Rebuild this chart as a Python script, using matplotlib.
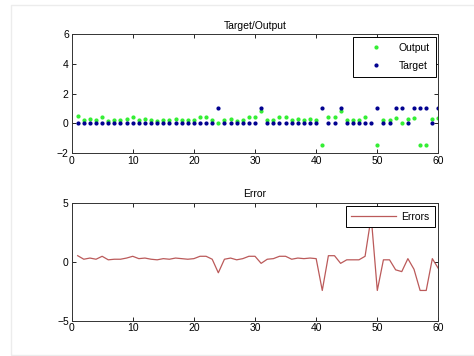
import matplotlib
matplotlib.use('Agg')
import matplotlib.pyplot as plt
from matplotlib.patches import Rectangle

plt.rcParams['font.family'] = ['Liberation Sans', 'DejaVu Sans']

# sample index
samples = list(range(1, 61))

# network output
output = [0.5, 0.2, 0.3, 0.2, 0.45, 0.15, 0.2, 0.2, 0.3, 0.45,
          0.25, 0.3, 0.2, 0.15, 0.25, 0.2, 0.3, 0.25, 0.2, 0.25,
          0.45, 0.45, 0.2, 0.05, 0.2, 0.3, 0.15, 0.25, 0.45, 0.45,
          0.85, 0.2, 0.25, 0.45, 0.45, 0.2, 0.3, 0.25, 0.3, 0.25,
          -1.45, 0.45, 0.45, 0.8, 0.2, 0.2, 0.2, 0.45, 3.8, -1.45,
          0.2, 0.2, 0.35, 0.05, 0.3, 0.35, -1.45, -1.45, 0.3, 0.35]

# target values
target = [0, 0, 0, 0, 0, 0, 0, 0, 0, 0,
          0, 0, 0, 0, 0, 0, 0, 0, 0, 0,
          0, 0, 0, 1, 0, 0, 0, 0, 0, 0,
          1, 0, 0, 0, 0, 0, 0, 0, 0, 0,
          1, 0, 0, 1, 0, 0, 0, 0, 0, 1,
          0, 0, 1, 1, 0, 1, 1, 1, 0, 1]

# error curve
errors = [0.5, 0.2, 0.3, 0.2, 0.45, 0.15, 0.2, 0.2, 0.3, 0.45,
          0.25, 0.3, 0.2, 0.15, 0.25, 0.2, 0.3, 0.25, 0.2, 0.25,
          0.45, 0.45, 0.2, -0.95, 0.2, 0.3, 0.15, 0.25, 0.45, 0.45,
          -0.15, 0.2, 0.25, 0.45, 0.45, 0.2, 0.3, 0.25, 0.3, 0.25,
          -2.45, 0.5, 0.5, -0.15, 0.15, 0.15, 0.15, 0.45, 3.8, -2.45,
          0.15, 0.15, -0.7, -0.85, 0.25, -0.65, -2.45, -2.45, 0.25, -0.6]

xticks = [0, 10, 20, 30, 40, 50, 60]

fig = plt.figure(figsize=(4.74, 3.56), dpi=100)
fig.patches.append(Rectangle((11 / 474, 1 / 356), 1.0, 350 / 356,
                             transform=fig.transFigure, fill=False,
                             edgecolor='#ececec', linewidth=1.0))

ax1 = fig.add_axes([0.151, 0.570, 0.774, 0.334])
ax2 = fig.add_axes([0.151, 0.0997, 0.774, 0.331])

ax1.plot(samples, output, linestyle='none', marker='.', markersize=4,
         color='#33ee33', label='Output')
ax1.plot(samples, target, linestyle='none', marker='.', markersize=4,
         color='#000090', label='Target')
ax1.set_xlim(0, 60)
ax1.set_ylim(-2, 6)
ax1.set_yticks([-2, 0, 2, 4, 6])
ax1.set_title('Target/Output', fontsize=7.5, pad=4)

ax2.plot(samples, errors, color='#bb5a5a', linewidth=0.9, label='Errors')
ax2.set_xlim(0, 60)
ax2.set_ylim(-5, 5)
ax2.set_yticks([-5, 0, 5])
ax2.set_title('Error', fontsize=7.5, pad=4)

for ax in (ax1, ax2):
    ax.set_xticks(xticks)
    ax.tick_params(direction='in', top=True, right=True, length=3,
                   width=0.6, labelsize=7.5, pad=2)
    for s in ax.spines.values():
        s.set_linewidth(0.7)
        s.set_color('#333333')

leg1 = ax1.legend(loc='upper right', fontsize=7.5, fancybox=False,
                  edgecolor='black', framealpha=1, borderaxespad=0.25,
                  handlelength=3.2, handletextpad=0.6, labelspacing=0.75,
                  borderpad=0.6)
leg1.get_frame().set_linewidth(0.7)
leg2 = ax2.legend(loc='upper right', fontsize=7.5, fancybox=False,
                  edgecolor='black', framealpha=1, borderaxespad=0.35,
                  handlelength=4.3, handletextpad=0.5, borderpad=0.5)
leg2.get_frame().set_linewidth(0.7)

fig.savefig('out.png', dpi=100)
